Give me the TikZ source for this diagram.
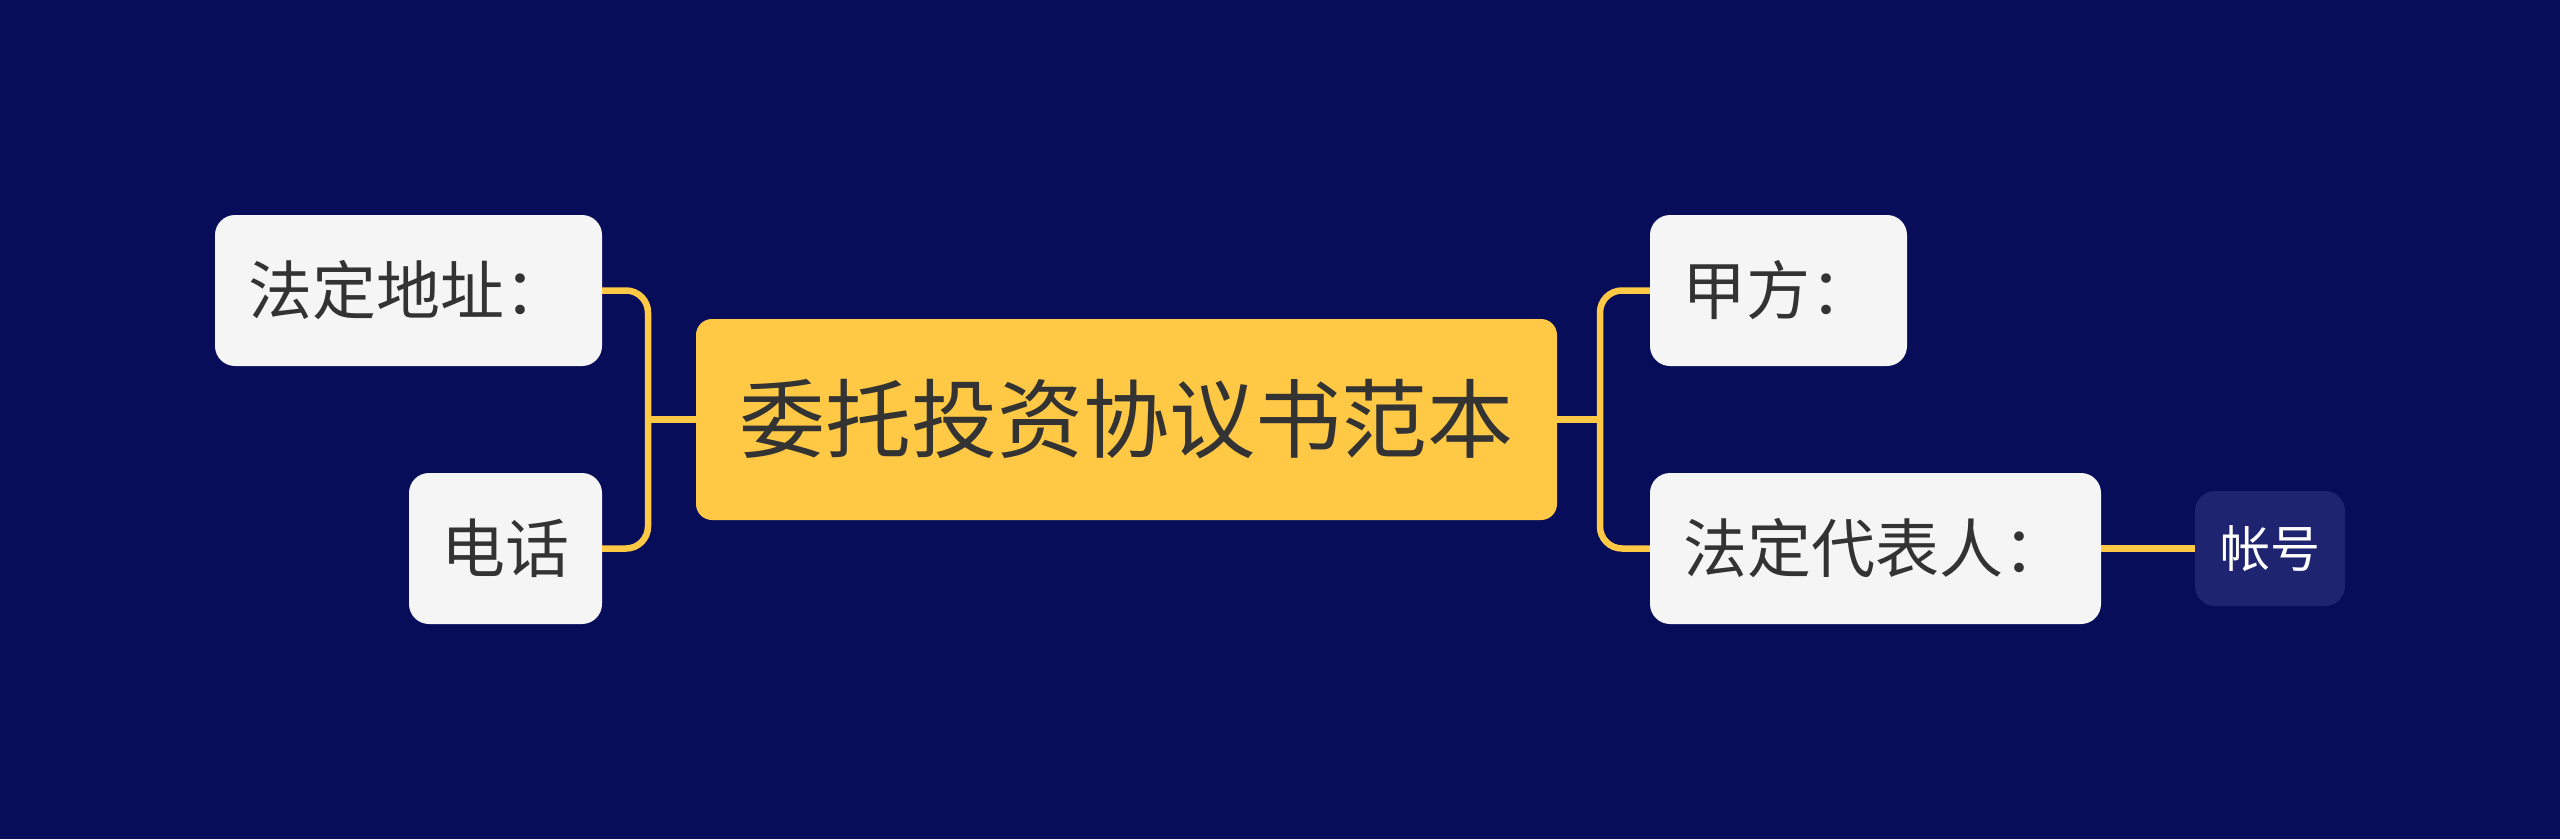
\documentclass[tikz,border=0pt]{standalone}
\usepackage{fontspec}
\newfontfamily\cjk{Noto Sans CJK SC}
\definecolor{bgc}{HTML}{080D59}
\definecolor{gold}{HTML}{FFC845}
\definecolor{boxc}{HTML}{F5F5F5}
\definecolor{txt}{HTML}{333333}
\definecolor{subc}{HTML}{1F2470}
\begin{document}
\begin{tikzpicture}[x=1pt,y=-1pt,
  central/.style={draw=none, fill=gold, rounded corners=16pt, inner sep=0pt,
    minimum width=861pt, minimum height=201pt, text=txt,
    font=\cjk\fontsize{86}{98}\selectfont},
  topic/.style={draw=none, fill=boxc, rounded corners=20pt, inner sep=0pt,
    minimum height=151pt, text=txt, font=\cjk\fontsize{64}{74}\selectfont},
  subtopic/.style={draw=none, fill=subc, rounded corners=20pt, inner sep=0pt,
    minimum width=150pt, minimum height=115pt, text=white,
    font=\cjk\fontsize{50}{58}\selectfont},
  conn/.style={draw=gold, line width=6.5pt}
]
\fill[bgc] (0,0) rectangle (2560,839);
\useasboundingbox (0,0) rectangle (2560,839);

\node[central] (c) at (1126.5,419.5) {委托投资协议书范本};
\node[topic, minimum width=387pt] (addr) at (408.5,290.5) {法定地址：};
\node[topic, minimum width=193pt] (tel) at (505.5,548.5) {电话};
\node[topic, minimum width=257pt] (jia) at (1778.5,290.5) {甲方：};
\node[topic, minimum width=451pt] (rep) at (1875.5,548.5) {法定代表人：};
\node[subtopic] (acct) at (2270,548.5) {帐号};

\coordinate (lj) at (648,419.5);
\coordinate (rj) at (1600,419.5);

\draw[conn, rounded corners=22pt] (addr.east) -| (lj) |- (tel.east);
\draw[conn] (c.west) -- (lj);
\draw[conn, rounded corners=22pt] (jia.west) -| (rj) |- (rep.west);
\draw[conn] (c.east) -- (rj);
\draw[conn] (rep.east) -- (acct.west);
\end{tikzpicture}
\end{document}
